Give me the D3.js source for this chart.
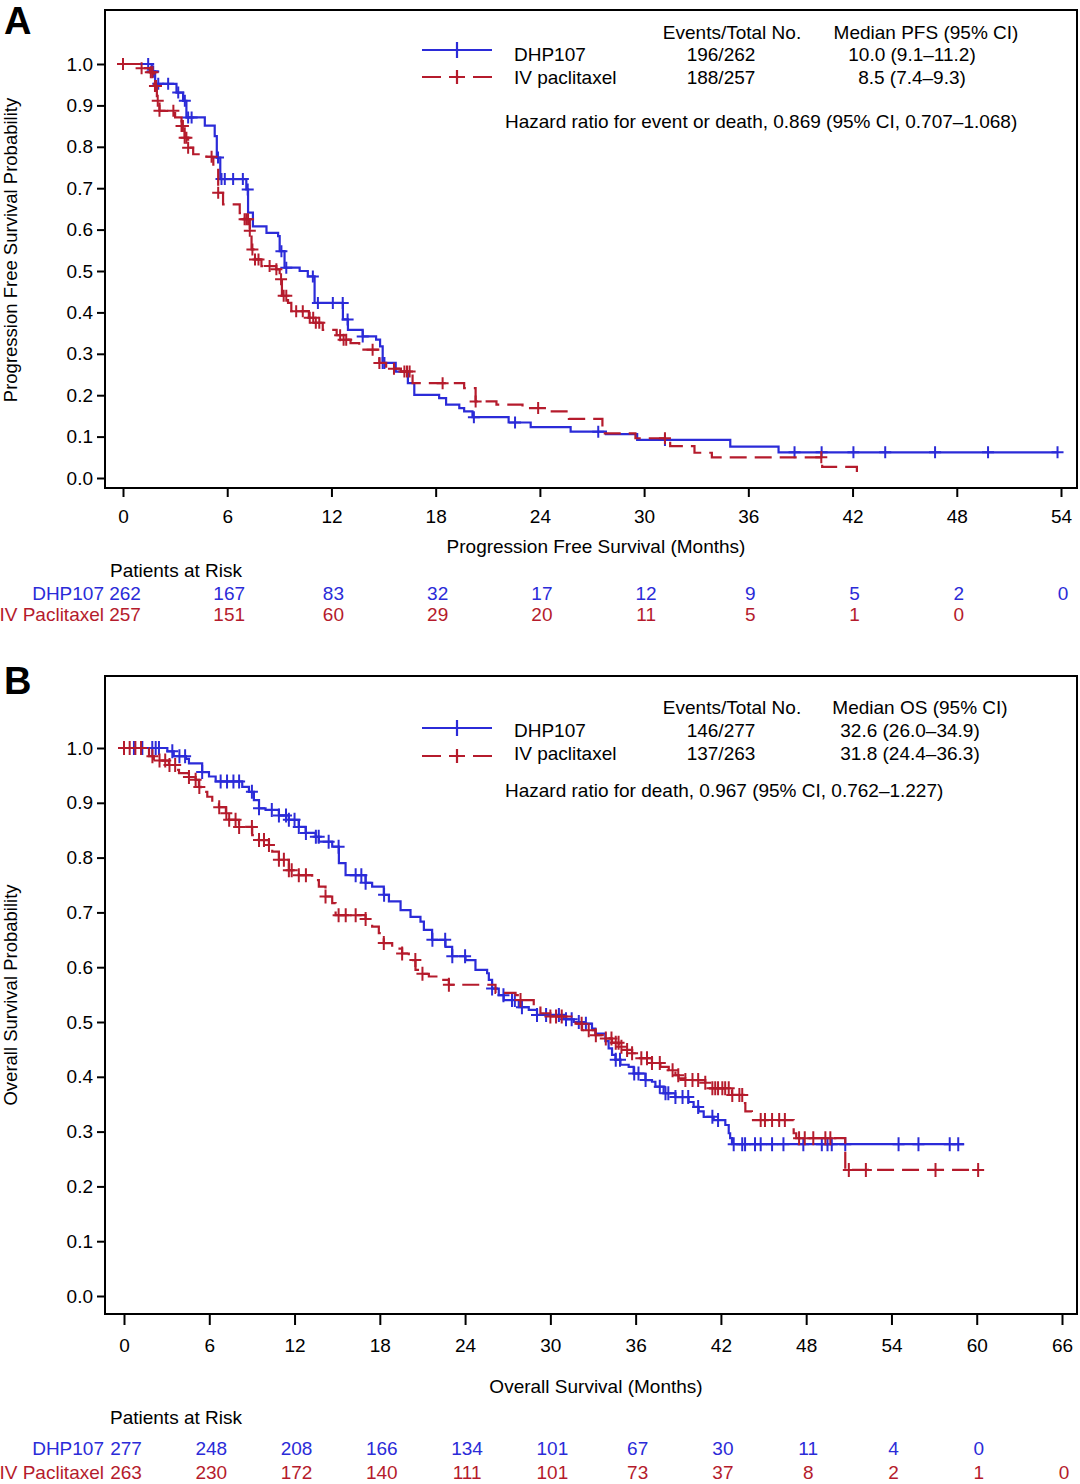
<!DOCTYPE html>
<html>
<head>
<meta charset="utf-8">
<script src="https://cdn.jsdelivr.net/npm/d3@7"></script>
<style>
body { margin: 0; background: #fff; }
text { font-family: "Liberation Sans", Arial, Helvetica, sans-serif; }
</style>
</head>
<body>
<div id="chart"></div>
<script>
// ---- data ----
// step points: [month, survival after the event]
var pfsDhpSteps = [
    [1.65,0.982],[1.85,0.952],[3.08,0.931],[3.46,0.911],[3.65,0.871],[4.71,0.851],
    [5.28,0.826],[5.4,0.774],[5.6,0.722],[7.1,0.697],[7.2,0.641],[7.48,0.608],
    [8.26,0.592],[8.93,0.584],[9.02,0.548],[9.3,0.508],[10.17,0.500],[10.64,0.487],
    [11.03,0.423],[12.66,0.383],[12.95,0.358],[13.8,0.342],[14.57,0.334],[14.8,0.318],
    [14.95,0.278],[15.7,0.257],[16.4,0.229],[16.77,0.201],[18.2,0.193],[18.6,0.177],
    [19.36,0.169],[19.64,0.161],[20.12,0.147],[22.2,0.134],[23.47,0.123],[25.77,0.112],
    [27.8,0.106],[29.6,0.092],[34.96,0.076],[37.74,0.062]
];
var pfsDhpCensor = [1.45,1.7,1.74,2.03,2.6,3.18,3.56,3.75,3.95,5.47,5.67,5.86,6.34,6.9,7.18,
    9.12,9.4,10.93,11.22,12.08,12.65,12.93,13.8,14.95,15.05,20.2,22.57,27.36,31.2,38.66,
    40.22,42.05,43.88,46.75,49.8,53.8];
var pfsDhpEnd = 53.8;

var pfsPacSteps = [
    [0.98,0.99],[1.55,0.98],[1.8,0.947],[1.95,0.911],[2.1,0.887],[3.0,0.871],[3.37,0.85],
    [3.55,0.822],[3.75,0.798],[4.04,0.782],[4.8,0.776],[5.2,0.754],[5.48,0.689],[5.76,0.661],
    [6.72,0.64],[7.0,0.625],[7.3,0.597],[7.4,0.552],[7.6,0.528],[7.97,0.512],[8.83,0.504],
    [9.02,0.48],[9.15,0.44],[9.5,0.423],[9.69,0.403],[10.7,0.387],[11.0,0.375],[11.5,0.358],
    [12.3,0.345],[12.7,0.334],[13.1,0.326],[13.6,0.31],[14.76,0.278],[15.15,0.264],[16.0,0.257],
    [16.67,0.229],[19.64,0.217],[20.3,0.185],[21.5,0.177],[23.0,0.169],[24.6,0.161],
    [25.67,0.143],[27.6,0.108],[29.5,0.096],[31.5,0.077],[32.9,0.061],[33.9,0.050],
    [40.25,0.027],[42.25,0.01]
];
var pfsPacCensor = [0.0,1.07,1.6,1.7,1.84,1.9,2.0,2.1,2.9,3.37,3.45,3.55,3.65,3.75,5.1,5.48,
    7.0,7.1,7.2,7.3,7.45,7.6,7.8,8.44,8.83,9.1,9.25,9.4,9.97,10.35,10.75,10.95,11.1,11.3,
    12.5,12.7,12.85,14.37,14.76,15.6,16.2,16.35,16.5,18.4,20.3,23.9,31.2,40.2];
var pfsPacEnd = 42.35;

var osDhpSteps = [
    [3.05,0.994],[3.5,0.985],[4.36,0.98],[4.57,0.972],[5.5,0.956],[5.98,0.948],[6.45,0.939],
    [8.32,0.929],[8.79,0.920],[9.14,0.905],[9.5,0.89],[9.96,0.887],[10.9,0.877],[11.6,0.869],
    [12.3,0.856],[12.78,0.845],[13.48,0.838],[13.71,0.829],[14.65,0.820],[15.12,0.79],
    [15.59,0.768],[17.0,0.754],[17.46,0.747],[18.28,0.732],[18.64,0.72],[19.46,0.704],
    [20.16,0.692],[20.86,0.683],[21.1,0.668],[21.68,0.65],[22.62,0.637],[23.09,0.62],
    [24.03,0.613],[24.73,0.595],[25.55,0.589],[25.67,0.577],[25.9,0.561],[26.37,0.549],
    [26.72,0.54],[27.78,0.527],[28.48,0.522],[29.06,0.513],[30.94,0.505],[31.65,0.50],
    [32.35,0.497],[32.93,0.488],[33.17,0.479],[33.87,0.465],[34.1,0.452],[34.34,0.44],
    [34.58,0.431],[34.93,0.422],[35.51,0.418],[35.86,0.406],[36.69,0.394],[37.15,0.391],
    [37.39,0.382],[37.97,0.370],[38.8,0.363],[39.73,0.354],[40.08,0.345],[40.44,0.337],
    [40.79,0.327],[41.49,0.321],[42.31,0.312],[42.55,0.297],[42.65,0.288],[42.78,0.277]
];
var osDhpCensor = [0,0.7,1.29,1.99,2.23,2.46,3.4,3.9,4.3,5.5,6.8,7.25,7.7,8.1,9.0,9.5,10.4,10.9,
    11.4,11.6,12.0,12.3,12.8,13.5,13.7,14.4,15.1,16.3,16.7,17.0,18.3,21.7,22.6,23.1,24.0,25.9,
    26.7,27.3,27.5,28.0,29.06,29.7,30.6,31.1,31.5,32.0,32.5,34.6,34.9,35.9,36.2,36.7,37.7,38.1,
    38.3,38.8,39.3,39.7,40.4,41.4,41.8,42.9,43.5,43.7,44.4,44.8,45.6,46.4,47.8,49.1,49.5,49.8,
    50.75,54.5,55.9,58.1,58.7];
var osDhpEnd = 59.1;

var osPacSteps = [
    [1.76,0.985],[2.1,0.977],[3.16,0.969],[3.64,0.96],[3.87,0.954],[4.57,0.947],[5.04,0.942],
    [5.27,0.929],[5.4,0.92],[5.86,0.911],[6.21,0.899],[6.68,0.892],[7.17,0.881],[7.38,0.869],
    [8.09,0.856],[9.02,0.841],[9.49,0.832],[10.2,0.823],[10.43,0.811],[10.9,0.796],[11.6,0.777],
    [12.3,0.768],[13.24,0.759],[13.71,0.747],[14.18,0.729],[14.65,0.717],[14.89,0.695],
    [17.0,0.688],[17.46,0.674],[17.93,0.662],[18.28,0.644],[18.87,0.634],[19.57,0.625],
    [20.04,0.613],[20.51,0.595],[20.98,0.588],[21.45,0.583],[22.15,0.577],[22.86,0.568],
    [26.14,0.553],[27.55,0.549],[27.9,0.54],[28.83,0.53],[29.3,0.516],[30.0,0.51],
    [31.77,0.497],[32.23,0.485],[33.17,0.476],[33.87,0.47],[34.34,0.462],[34.81,0.455],
    [35.04,0.449],[35.75,0.443],[36.1,0.434],[37.15,0.425],[37.74,0.418],[38.33,0.412],
    [38.8,0.403],[39.03,0.397],[39.5,0.394],[40.9,0.389],[41.14,0.379],[42.78,0.367],
    [43.6,0.352],[43.72,0.337],[44.18,0.321],[47.12,0.297],[47.3,0.288],[50.75,0.23]
];
var osPacCensor = [0,0.4,0.8,1.2,2.0,2.5,2.9,3.2,3.6,4.57,5.04,5.3,6.7,7.2,7.4,7.85,8.1,9.0,9.5,
    9.85,10.2,10.9,11.25,11.6,11.8,12.3,12.8,14.18,15.1,15.6,16.3,17.0,18.28,19.57,20.5,21.0,
    22.86,27.9,30.0,30.4,30.8,32.2,32.7,33.2,33.9,34.3,34.6,34.8,35.0,35.4,35.75,36.4,36.8,37.15,
    37.7,38.6,39.0,39.5,40.0,40.4,40.9,41.4,41.6,41.8,42.1,42.3,42.55,42.8,43.3,43.5,44.8,45.1,
    45.6,46.1,46.5,47.5,47.9,48.5,49.35,49.7,51.0,52.2,57.1,60.1];
var osPacEnd = 60.1;

// ticks and risk tables
var yTicks = [0, 0.1, 0.2, 0.3, 0.4, 0.5, 0.6, 0.7, 0.8, 0.9, 1.0];
var pfsXTicks = [0, 6, 12, 18, 24, 30, 36, 42, 48, 54];
var osXTicks = [0, 6, 12, 18, 24, 30, 36, 42, 48, 54, 60, 66];
var pfsRiskDhp = [262, 167, 83, 32, 17, 12, 9, 5, 2, 0];
var pfsRiskPac = [257, 151, 60, 29, 20, 11, 5, 1, 0];
var osRiskDhp = [277, 248, 208, 166, 134, 101, 67, 30, 11, 4, 0];
var osRiskPac = [263, 230, 172, 140, 111, 101, 73, 37, 8, 2, 1, 0];

var blue = '#2b2bd8';
var red = '#b51b2c';
var fontSize = '19px';

let svg = d3.select('#chart')
    .append('svg')
    .attr('width', 1080)
    .attr('height', 1484);

function survAt(steps, t) {
    let s = 1;
    steps.forEach(function(d) { if (d[0] <= t) s = d[1]; });
    return s;
}

function addText(g, x, y, str, anchor, color) {
    return g.append('text')
        .attr('x', x)
        .attr('y', y)
        .attr('text-anchor', anchor || 'start')
        .attr('fill', color || '#000')
        .attr('font-size', fontSize)
        .text(str);
}

function drawPanel(p) {
    let g = svg.append('g');

    let xScale = d3.scaleLinear().domain(p.xDomain).range(p.xRange);
    let yScale = d3.scaleLinear().domain([0, 1]).range(p.yRange);

    // panel letter
    g.append('text')
        .attr('x', 4).attr('y', p.letterY)
        .attr('font-size', '38px').attr('font-weight', 'bold')
        .text(p.letter);

    // frame
    g.append('rect')
        .attr('x', 105).attr('y', p.top)
        .attr('width', 972).attr('height', p.bottom - p.top)
        .attr('fill', 'none').attr('stroke', '#000').attr('stroke-width', 2);

    // axes
    let yAxis = d3.axisLeft(yScale)
        .tickValues(yTicks)
        .tickFormat(d3.format('.1f'))
        .tickSize(8)
        .tickPadding(4);
    g.append('g')
        .attr('transform', 'translate(105,0)')
        .call(yAxis)
        .call(a => a.select('.domain').remove())
        .call(a => a.selectAll('line').attr('stroke-width', 2))
        .call(a => a.selectAll('text').attr('font-size', fontSize).attr('font-family', null));

    let xAxis = d3.axisBottom(xScale)
        .tickValues(p.xTicks)
        .tickSize(p.xTickSize)
        .tickPadding(p.xTickPad);
    g.append('g')
        .attr('transform', 'translate(0,' + p.bottom + ')')
        .call(xAxis)
        .call(a => a.select('.domain').remove())
        .call(a => a.selectAll('line').attr('stroke-width', 2))
        .call(a => a.selectAll('text').attr('font-size', fontSize).attr('font-family', null));

    // axis titles
    g.append('text')
        .attr('transform', 'translate(17,' + p.yTitleY + ') rotate(-90)')
        .attr('text-anchor', 'middle')
        .attr('font-size', '18.5px')
        .text(p.yTitle);
    addText(g, 596, p.xTitleY, p.xTitle, 'middle');

    // curves
    let line = d3.line()
        .x(d => xScale(d[0]))
        .y(d => yScale(d[1]))
        .curve(d3.curveStepAfter);

    p.series.forEach(function(s) {
        let pts = [[0, 1]].concat(s.steps);
        pts.push([s.end, s.steps[s.steps.length - 1][1]]);
        g.append('path')
            .datum(pts)
            .attr('d', line)
            .attr('fill', 'none')
            .attr('stroke', s.color)
            .attr('stroke-width', 2.2)
            .attr('stroke-dasharray', s.dash);

        g.append('g')
            .selectAll('path')
            .data(s.censor)
            .enter()
            .append('path')
            .attr('d', function(t) {
                let cx = xScale(t), cy = yScale(survAt(s.steps, t));
                return 'M' + (cx - p.crossH) + ',' + cy + 'H' + (cx + p.crossH) +
                    'M' + cx + ',' + (cy - p.crossV) + 'V' + (cy + p.crossV);
            })
            .attr('stroke', s.color)
            .attr('stroke-width', 2)
            .attr('fill', 'none');
    });

    // legend
    let L = p.legend;
    g.append('line')
        .attr('x1', 422).attr('x2', 492).attr('y1', L.line1).attr('y2', L.line1)
        .attr('stroke', blue).attr('stroke-width', 2.2);
    g.append('path')
        .attr('d', 'M457,' + (L.line1 - 8) + 'V' + (L.line1 + 8))
        .attr('stroke', blue).attr('stroke-width', 2.2);
    g.append('path')
        .attr('d', 'M422,' + L.line2 + 'H441M449,' + L.line2 + 'H465M457,' + (L.line2 - 7) +
            'V' + (L.line2 + 7) + 'M473,' + L.line2 + 'H492')
        .attr('stroke', red).attr('stroke-width', 2.2).attr('fill', 'none');

    addText(g, 732, L.header, 'Events/Total No.', 'middle');
    addText(g, p.medHeadX, L.header, p.medHead, 'middle');
    addText(g, 514, L.row1, 'DHP107');
    addText(g, 514, L.row2, 'IV paclitaxel');
    addText(g, 721, L.row1, p.events[0], 'middle');
    addText(g, 721, L.row2, p.events[1], 'middle');
    addText(g, p.medX, L.row1, p.medians[0], 'middle');
    addText(g, p.medX, L.row2, p.medians[1], 'middle');
    addText(g, 505, L.hazard, p.hazard);

    // patients at risk
    addText(g, 110, p.riskHeadY, 'Patients at Risk');
    addText(g, 104, p.riskY1, 'DHP107', 'end', blue);
    addText(g, 104, p.riskY2, 'IV Paclitaxel', 'end', red);

    g.append('g').selectAll('text')
        .data(p.riskDhp)
        .enter()
        .append('text')
        .attr('x', (d, i) => xScale(p.xTicks[i]) + 2)
        .attr('y', p.riskY1)
        .attr('text-anchor', 'middle')
        .attr('font-size', fontSize)
        .attr('fill', blue)
        .text(d => d);

    g.append('g').selectAll('text')
        .data(p.riskPac)
        .enter()
        .append('text')
        .attr('x', (d, i) => xScale(p.xTicks[i]) + 2)
        .attr('y', p.riskY2)
        .attr('text-anchor', 'middle')
        .attr('font-size', fontSize)
        .attr('fill', red)
        .text(d => d);
}

drawPanel({
    letter: 'A', letterY: 34,
    top: 10, bottom: 488,
    xDomain: [0, 54], xRange: [123, 1061], yRange: [478, 64],
    xTicks: pfsXTicks, xTickSize: 9, xTickPad: 13,
    yTitle: 'Progression Free Survival Probability', yTitleY: 250,
    xTitle: 'Progression Free Survival (Months)', xTitleY: 553,
    crossH: 6, crossV: 6,
    series: [
        { steps: pfsDhpSteps, censor: pfsDhpCensor, end: pfsDhpEnd, color: blue, dash: null },
        { steps: pfsPacSteps, censor: pfsPacCensor, end: pfsPacEnd, color: red, dash: '17,8' }
    ],
    legend: { line1: 50, line2: 77, header: 39, row1: 61, row2: 84, hazard: 128 },
    medHead: 'Median PFS (95% CI)', medHeadX: 926, medX: 912,
    events: ['196/262', '188/257'],
    medians: ['10.0 (9.1\u201311.2)', '8.5 (7.4\u20139.3)'],
    hazard: 'Hazard ratio for event or death, 0.869 (95% CI, 0.707\u20131.068)',
    riskHeadY: 577, riskY1: 600, riskY2: 621,
    riskDhp: pfsRiskDhp, riskPac: pfsRiskPac
});

drawPanel({
    letter: 'B', letterY: 694,
    top: 676, bottom: 1314,
    xDomain: [0, 66], xRange: [124, 1062], yRange: [1296, 748],
    xTicks: osXTicks, xTickSize: 11, xTickPad: 14,
    yTitle: 'Overall Survival Probability', yTitleY: 995,
    xTitle: 'Overall Survival (Months)', xTitleY: 1393,
    crossH: 6, crossV: 7,
    series: [
        { steps: osDhpSteps, censor: osDhpCensor, end: osDhpEnd, color: blue, dash: null },
        { steps: osPacSteps, censor: osPacCensor, end: osPacEnd, color: red, dash: '17,8' }
    ],
    legend: { line1: 728, line2: 756, header: 714, row1: 737, row2: 760, hazard: 797 },
    medHead: 'Median OS (95% CI)', medHeadX: 920, medX: 910,
    events: ['146/277', '137/263'],
    medians: ['32.6 (26.0\u201334.9)', '31.8 (24.4\u201336.3)'],
    hazard: 'Hazard ratio for death, 0.967 (95% CI, 0.762\u20131.227)',
    riskHeadY: 1424, riskY1: 1455, riskY2: 1479,
    riskDhp: osRiskDhp, riskPac: osRiskPac
});
</script>
</body>
</html>
